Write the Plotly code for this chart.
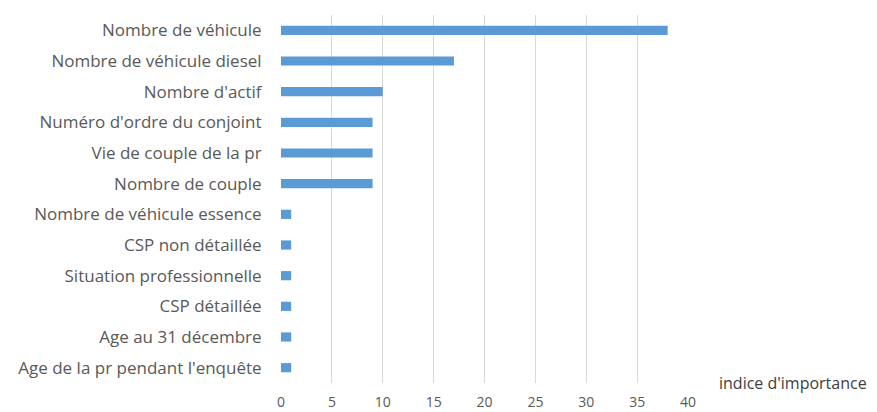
import plotly.graph_objects as go

categories = [
    "Nombre de véhicule",
    "Nombre de véhicule diesel",
    "Nombre d'actif",
    "Numéro d'ordre du conjoint",
    "Vie de couple de la pr",
    "Nombre de couple",
    "Nombre de véhicule essence",
    "CSP non détaillée",
    "Situation professionnelle",
    "CSP détaillée",
    "Age au 31 décembre",
    "Age de la pr pendant l'enquête",
]
values = [38, 17, 10, 9, 9, 9, 1, 1, 1, 1, 1, 1]
x_ticks = [0, 5, 10, 15, 20, 25, 30, 35, 40]
x_title = "indice d'importance"

fig = go.Figure(go.Bar(
    y=categories, x=values, orientation="h",
    marker=dict(color="#5B9BD5", line=dict(width=0)),
))

# page body has an 8px margin: plot area aimed at x 281..688, y 15..383 on screen
fig.update_layout(
    width=877, height=412,
    margin=dict(l=273, r=197, t=7, b=37, autoexpand=False),
    paper_bgcolor="white", plot_bgcolor="white",
    bargap=0.7,
    showlegend=False,
    font=dict(family="Open Sans", size=16, color="#595959"),
    xaxis=dict(
        range=[0, 40], tickvals=x_ticks, showgrid=True,
        gridcolor="#D9D9D9", gridwidth=1, zeroline=False,
        showline=False, ticks="outside", ticklen=6, tickcolor="rgba(0,0,0,0)",
        tickfont=dict(size=14, color="#595959"),
    ),
    yaxis=dict(
        categoryorder="array", categoryarray=categories[::-1],
        showgrid=False, zeroline=False, showline=False,
        ticks="outside", ticklen=15, tickcolor="rgba(0,0,0,0)",
        tickfont=dict(size=17, color="#595959"),
    ),
    annotations=[dict(
        text=x_title, xref="paper", yref="paper", x=1.071, y=0,
        xanchor="left", yanchor="middle", showarrow=False,
        font=dict(size=16, color="#404040"),
    )],
)

fig.write_html("out.html")
